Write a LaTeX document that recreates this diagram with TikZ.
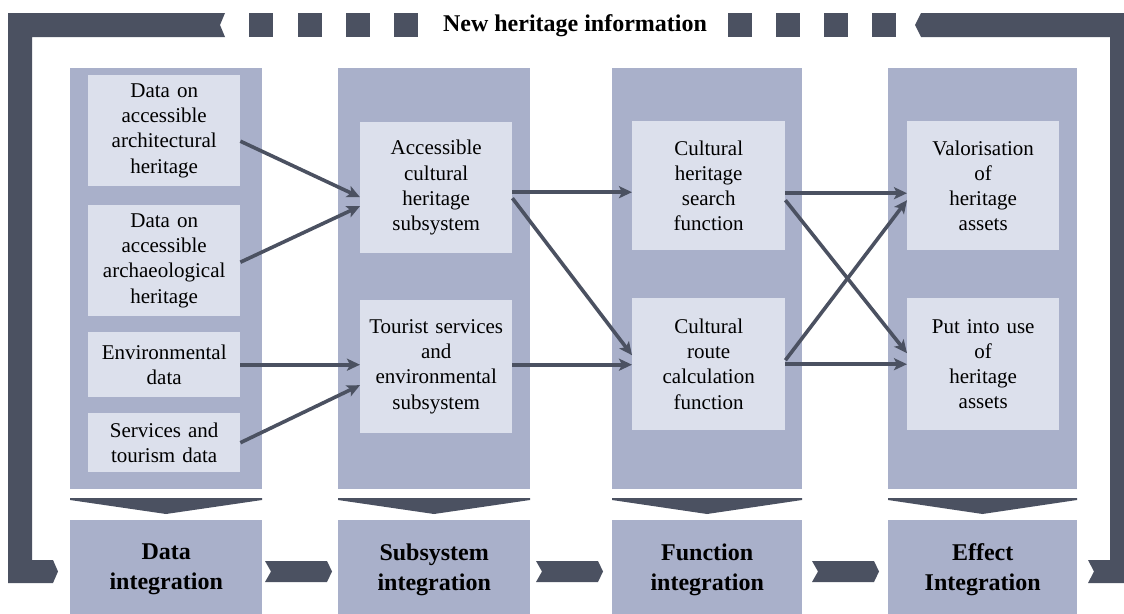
\documentclass[tikz,border=0pt]{standalone}
\usepackage{fontspec}
\setmainfont{Liberation Serif}
\usetikzlibrary{arrows.meta}
\definecolor{dark}{HTML}{4B5161}
\definecolor{panel}{HTML}{A9B0CA}
\definecolor{innerc}{HTML}{DCE0EC}
\begin{document}
\begin{tikzpicture}[x=1pt,y=-1pt,
  panelbox/.style={fill=panel, draw=none, inner sep=0pt, anchor=north west},
  colpanel/.style={panelbox, minimum height=421pt},
  stagebox/.style={panelbox, minimum height=99pt, text width=188pt, align=center,
    font=\fontsize{24}{30}\selectfont\bfseries},
  itembox/.style={fill=innerc, draw=none, inner sep=0pt, anchor=north west,
    text width=150pt, align=center, font=\fontsize{21}{25.2}\selectfont},
  arr/.style={draw=dark, line width=3.6pt,
    -{Stealth[length=13pt,width=12pt,inset=3pt]}},
  sq/.style={fill=dark}
]
\useasboundingbox (0,0) rectangle (1124,613);
\fill[white] (0,0) rectangle (1124,613);

% frame
\fill[dark] (8,13) -- (225,13) -- (220,25) -- (225,37) -- (32,37) -- (32,560)
  -- (53,560) -- (58,571.5) -- (53,583) -- (8,583) -- cycle;
\fill[dark] (915,25) -- (921,13) -- (1124,13) -- (1124,583) -- (1088,583)
  -- (1094,571.5) -- (1088,560) -- (1110,560) -- (1110,37) -- (921,37) -- cycle;
\foreach \x in {249,298,346,394,728,776,824,872}
  \fill[sq] (\x,13) rectangle ++(24,24);
\node[font=\fontsize{24}{27}\selectfont\bfseries, inner sep=0pt, anchor=base] (title) at (575,31) {New heritage information};

% column panels
\node[colpanel, minimum width=192pt] (c1) at (70,68) {};
\node[colpanel, minimum width=192pt] (c2) at (338,68) {};
\node[colpanel, minimum width=190pt] (c3) at (612,68) {};
\node[colpanel, minimum width=189pt] (c4) at (888,68) {};

% down chevrons
\foreach \a/\b in {70/262,338/530,612/802,888/1077}
  \fill[dark] (\a,498) -- (\b,498) -- (\b,500) -- ({(\a+\b)/2},514) -- (\a,500) -- cycle;

% stage boxes
\node[stagebox, minimum width=192pt] (s1) at (70,520) {Data\\integration};
\node[stagebox, minimum width=192pt] (s2) at (338,520) {Subsystem\\integration};
\node[stagebox, minimum width=190pt] (s3) at (612,520) {Function\\integration};
\node[stagebox, minimum width=189pt] (s4) at (888,520) {Effect\\Integration};

% bottom chevrons
\foreach \a in {265,536,812}
  \fill[dark] (\a,561) -- ({\a+62},561) -- ({\a+67},571.5) -- ({\a+62},582)
    -- (\a,582) -- ({\a+6},571.5) -- cycle;

% item boxes
\node[itembox, minimum width=152pt, minimum height=111pt] (arch) at (88,75) {Data on\\accessible\\architectural\\heritage};
\node[itembox, minimum width=152pt, minimum height=111pt] (archae) at (88,205) {Data on\\accessible\\archaeological\\heritage};
\node[itembox, minimum width=152pt, minimum height=65pt] (env) at (88,332) {Environmental\\data};
\node[itembox, minimum width=152pt, minimum height=59pt] (serv) at (88,413) {Services and\\tourism data};

\node[itembox, minimum width=152pt, minimum height=131pt] (acc) at (360,122) {Accessible\\cultural\\heritage\\subsystem};
\node[itembox, minimum width=152pt, minimum height=133pt] (tour) at (360,300) {Tourist services\\and\\environmental\\subsystem};

\node[itembox, minimum width=153pt, minimum height=129pt] (search) at (632,121) {Cultural\\heritage\\search\\function};
\node[itembox, minimum width=153pt, minimum height=132pt] (route) at (632,298) {Cultural\\route\\calculation\\function};

\node[itembox, minimum width=152pt, minimum height=129pt] (valor) at (907,121) {Valorisation\\of\\heritage\\assets};
\node[itembox, minimum width=152pt, minimum height=132pt] (put) at (907,298) {Put into use\\of\\heritage\\assets};

% arrows
\draw[arr] ([yshift=-10.5pt]arch.east) -- ([yshift=-9.5pt]acc.west);
\draw[arr] ([yshift=-1.5pt]archae.east) -- ([yshift=-18.5pt]acc.west);
\draw[arr] (env.east) -- (env.east -| tour.west);
\draw[arr] (serv.east) -- ([yshift=-18.5pt]tour.west);

\draw[arr] ([yshift=-4.5pt]acc.east) -- ([yshift=-4.5pt]acc.east -| search.west);
\draw[arr] ([yshift=-10.5pt]acc.east) -- ([yshift=9pt]route.west);
\draw[arr] ([yshift=2pt]tour.east) -- ([yshift=2pt]tour.east -| route.west);

\draw[arr] ([yshift=-7.5pt]search.east) -- ([yshift=-7.5pt]search.east -| valor.west);
\draw[arr] ([yshift=-14.5pt]search.east) -- ([yshift=11pt]put.west);
\draw[arr] ([yshift=4pt]route.east) -- ([yshift=-14.5pt]valor.west);
\draw[arr] (route.east) -- (route.east -| put.west);
\end{tikzpicture}
\end{document}
